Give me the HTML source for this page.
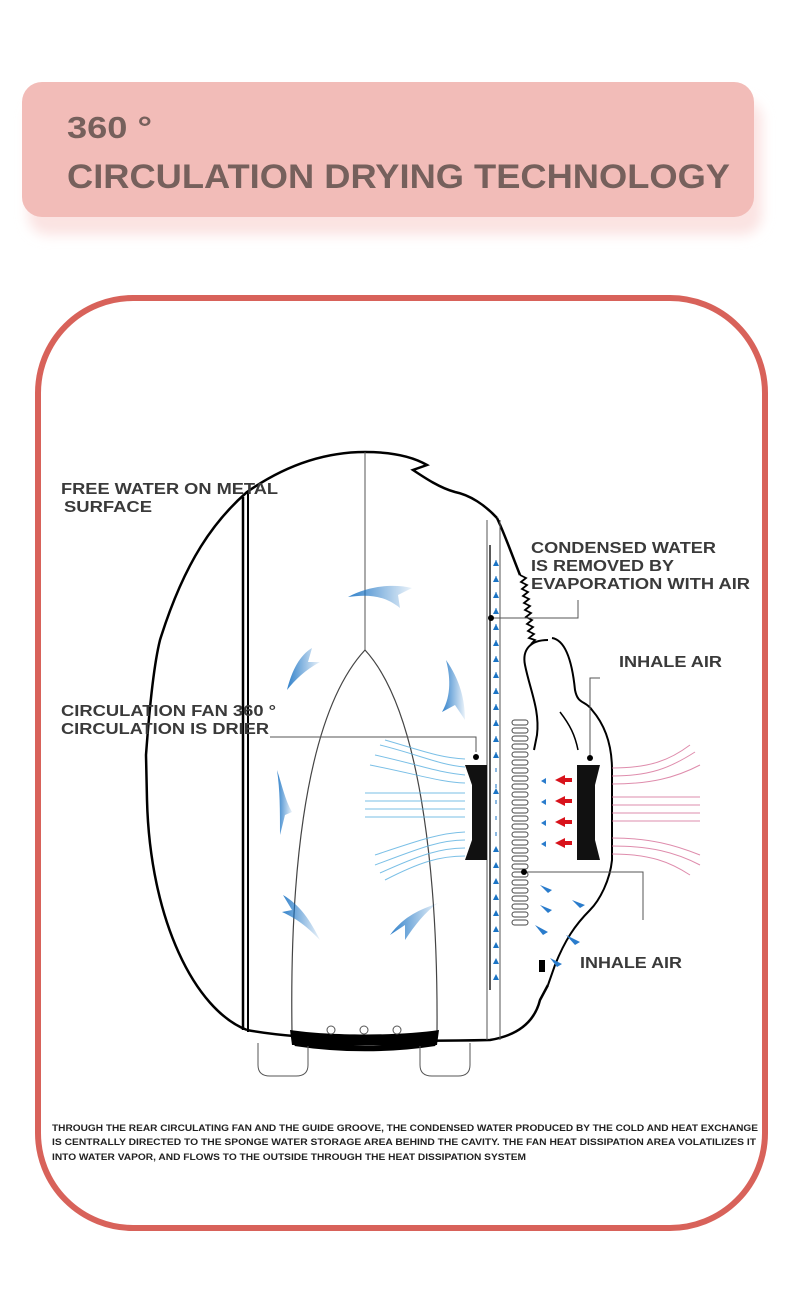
<!DOCTYPE html>
<html><head><meta charset="utf-8"><style>
html,body{margin:0;padding:0;background:#fff;}
body{width:800px;height:1302px;position:relative;overflow:hidden;font-family:"Liberation Sans",sans-serif;}
</style></head><body>
<svg width="800" height="1302" viewBox="0 0 800 1302" xmlns="http://www.w3.org/2000/svg">
<defs>
<linearGradient id="ga" x1="0" y1="0" x2="1" y2="0"><stop offset="0" stop-color="#1a73c4"/><stop offset="1" stop-color="#1a73c4" stop-opacity="0.1"/></linearGradient>
<filter id="sh" x="-5%" y="-20%" width="110%" height="160%"><feGaussianBlur stdDeviation="6"/></filter>
</defs>
<rect x="28" y="100" width="734" height="135" rx="20" fill="#fbe3e2" filter="url(#sh)"/>
<rect x="22" y="82" width="732" height="135" rx="20" fill="#f2bcb8"/>
<text x="67" y="138" font-size="31" font-weight="bold" fill="#76605c" textLength="85" lengthAdjust="spacingAndGlyphs">360 °</text>
<text x="67" y="188" font-size="34" font-weight="bold" fill="#76605c" textLength="663" lengthAdjust="spacingAndGlyphs">CIRCULATION DRYING TECHNOLOGY</text>
<rect x="38" y="298" width="727" height="930" rx="95" fill="#fff" stroke="#d8625a" stroke-width="6"/>
<g fill="none" stroke="#000" stroke-width="2.5">
<path d="M247,1030 C195,1010 150,920 147,800 L146,755 C150,700 155,660 160,640 C185,560 215,520 247,492 C290,462 330,452 365,452 C395,452 415,458 427,465 L413,470 C425,478 440,488 455,492 C470,495 485,505 497,518"/>
<path d="M247,1030 C300,1040 400,1042 490,1040 C520,1035 535,1020 540,1000 L548,985"/>
<path d="M497,518 C505,535 512,555 520,575"/>
</g>
<path d="M520,575 l6,3 -5,4 6,3 -5,4 6,3 -5,4 6,3 -5,4 6,3 -5,4 6,3 -5,4 6,3 -5,4 6,3 -5,4 6,3 -5,4 6,2 -4,4" fill="none" stroke="#000" stroke-width="1.8"/>
<path d="M548,640 C530,640 522,650 525,665 C530,690 540,710 537,735 L534,750" fill="none" stroke="#000" stroke-width="2"/>
<path d="M552,638 C565,640 572,660 575,690 C578,705 585,700 592,710 C605,725 612,745 612,770 L612,860 C610,880 600,900 590,910 C575,925 565,940 555,965 L548,985" fill="none" stroke="#000" stroke-width="2"/>
<path d="M560,712 C570,725 575,735 578,750" fill="none" stroke="#000" stroke-width="1.5"/>
<rect x="539" y="960" width="6" height="12" fill="#000"/>
<line x1="243" y1="497" x2="243" y2="1030" stroke="#000" stroke-width="2.5"/>
<line x1="248" y1="492" x2="248" y2="1032" stroke="#000" stroke-width="2"/>
<line x1="365" y1="452" x2="365" y2="650" stroke="#555" stroke-width="1"/>
<line x1="487" y1="520" x2="487" y2="1040" stroke="#555" stroke-width="1"/>
<line x1="500" y1="520" x2="500" y2="1040" stroke="#555" stroke-width="1"/>
<line x1="490" y1="545" x2="490" y2="990" stroke="#222" stroke-width="1.5"/>
<path d="M292,1032 C290,900 300,720 365,650 C425,715 438,900 437,1032" fill="none" stroke="#444" stroke-width="1.2"/>
<path d="M290,1030 L292,1045 L437,1045 L439,1030 C400,1036 330,1036 290,1030Z" fill="#000"/>
<path d="M295,1043 C340,1050 390,1050 435,1043" stroke="#000" stroke-width="6" fill="none"/>
<circle cx="331" cy="1030" r="4" fill="#fff" stroke="#555"/><circle cx="364" cy="1030" r="4" fill="#fff" stroke="#555"/><circle cx="397" cy="1030" r="4" fill="#fff" stroke="#555"/>
<path d="M258,1043 L258,1065 Q258,1076 270,1076 L296,1076 Q308,1076 308,1065 L308,1046" fill="none" stroke="#555" stroke-width="1"/>
<path d="M420,1046 L420,1065 Q420,1076 432,1076 L458,1076 Q470,1076 470,1065 L470,1043" fill="none" stroke="#555" stroke-width="1"/>
<g fill="#1a73c4">
<polygon points="496,560 493,566 499,566"/><polygon points="496,576 493,582 499,582"/><polygon points="496,592 493,598 499,598"/><polygon points="496,608 493,614 499,614"/><polygon points="496,624 493,630 499,630"/><polygon points="496,640 493,646 499,646"/><polygon points="496,656 493,662 499,662"/><polygon points="496,672 493,678 499,678"/><polygon points="496,688 493,694 499,694"/><polygon points="496,704 493,710 499,710"/><polygon points="496,720 493,726 499,726"/><polygon points="496,736 493,742 499,742"/><polygon points="496,752 493,758 499,758"/><polygon points="496,788 493,794 499,794"/>
<polygon points="496,846 493,852 499,852"/><polygon points="496,862 493,868 499,868"/><polygon points="496,878 493,884 499,884"/><polygon points="496,894 493,900 499,900"/><polygon points="496,910 493,916 499,916"/><polygon points="496,926 493,932 499,932"/><polygon points="496,942 493,948 499,948"/><polygon points="496,958 493,964 499,964"/><polygon points="496,974 493,980 499,980"/>
</g>
<g stroke="#1a73c4" stroke-width="1"><line x1="496" y1="560" x2="496" y2="990" stroke-dasharray="4,12"/></g>
<g fill="url(#ga)" opacity="0.9">
<path d="M348,597 C370,585 395,584 412,588 L398,595 L400,608 C385,596 370,594 348,597Z"/>
<path d="M287,690 C292,670 300,655 312,648 L308,662 L320,662 C305,670 295,680 287,690Z"/>
<path d="M446,660 C460,680 465,700 465,720 L455,705 L442,712 C452,695 450,675 446,660Z"/>
<path d="M277,770 C280,790 280,810 280,835 L285,815 L292,812 C285,800 282,785 277,770Z"/>
<path d="M320,940 C310,920 300,905 283,895 L292,910 L282,912 C300,920 310,930 320,940Z"/>
<path d="M438,903 C420,910 405,915 390,935 L405,925 L405,940 C415,925 425,912 438,903Z"/>
</g>
<g fill="none" stroke="#5ab0e0" stroke-width="1" opacity="0.8">
<path d="M380,745 C420,755 440,765 465,767"/><path d="M375,755 C420,765 440,773 465,775"/><path d="M370,765 C420,775 440,782 465,783"/><path d="M385,740 C420,750 440,758 465,759"/>
<path d="M365,793 L465,793"/><path d="M365,801 L465,801"/><path d="M365,809 L465,809"/><path d="M365,817 L465,817"/>
<path d="M375,855 C420,840 440,833 465,832"/><path d="M375,865 C420,848 440,840 465,840"/><path d="M380,873 C420,855 440,848 465,848"/><path d="M385,880 C420,862 440,856 465,856"/>
</g>
<g fill="none" stroke="#d77098" stroke-width="1" opacity="0.8">
<path d="M612,768 C650,768 670,760 690,745"/><path d="M612,776 C650,776 670,768 695,752"/><path d="M612,784 C650,784 675,778 700,765"/>
<path d="M612,797 L700,797"/><path d="M612,805 L700,805"/><path d="M612,813 L700,813"/><path d="M612,821 L700,821"/>
<path d="M612,838 C650,838 675,845 700,855"/><path d="M612,846 C650,846 675,852 700,865"/><path d="M612,854 C650,854 670,862 690,875"/>
</g>
<g fill="#111">
<path d="M465,765 L487,765 L487,860 L465,860 L472,840 L472,785Z"/>
<path d="M577,765 L600,765 L595,785 L595,840 L600,860 L577,860Z"/>
</g>
<g>
<polygon points="555,780 565,775 565,778 572,778 572,782 565,782 565,785" fill="#d8121b"/>
<polygon points="555,801 565,796 565,799 572,799 572,803 565,803 565,806" fill="#d8121b"/>
<polygon points="555,822 565,817 565,820 572,820 572,824 565,824 565,827" fill="#d8121b"/>
<polygon points="555,843 565,838 565,841 572,841 572,845 565,845 565,848" fill="#d8121b"/>
<polygon points="541,781 546,778 546,784" fill="#2a7ccc"/><polygon points="541,802 546,799 546,805" fill="#2a7ccc"/><polygon points="541,823 546,820 546,826" fill="#2a7ccc"/><polygon points="541,844 546,841 546,847" fill="#2a7ccc"/>
</g>
<g fill="none" stroke="#444" stroke-width="1">
<rect x="512" y="720" width="16" height="5" rx="2.5"/><rect x="512" y="728" width="16" height="5" rx="2.5"/><rect x="512" y="736" width="16" height="5" rx="2.5"/><rect x="512" y="744" width="16" height="5" rx="2.5"/><rect x="512" y="752" width="16" height="5" rx="2.5"/><rect x="512" y="760" width="16" height="5" rx="2.5"/><rect x="512" y="768" width="16" height="5" rx="2.5"/><rect x="512" y="776" width="16" height="5" rx="2.5"/><rect x="512" y="784" width="16" height="5" rx="2.5"/><rect x="512" y="792" width="16" height="5" rx="2.5"/><rect x="512" y="800" width="16" height="5" rx="2.5"/><rect x="512" y="808" width="16" height="5" rx="2.5"/><rect x="512" y="816" width="16" height="5" rx="2.5"/><rect x="512" y="824" width="16" height="5" rx="2.5"/><rect x="512" y="832" width="16" height="5" rx="2.5"/><rect x="512" y="840" width="16" height="5" rx="2.5"/><rect x="512" y="848" width="16" height="5" rx="2.5"/><rect x="512" y="856" width="16" height="5" rx="2.5"/><rect x="512" y="864" width="16" height="5" rx="2.5"/><rect x="512" y="872" width="16" height="5" rx="2.5"/><rect x="512" y="880" width="16" height="5" rx="2.5"/><rect x="512" y="888" width="16" height="5" rx="2.5"/><rect x="512" y="896" width="16" height="5" rx="2.5"/><rect x="512" y="904" width="16" height="5" rx="2.5"/><rect x="512" y="912" width="16" height="5" rx="2.5"/><rect x="512" y="920" width="16" height="5" rx="2.5"/>
</g>
<g fill="#2a7ccc">
<polygon points="540,885 552,890 548,893"/><polygon points="540,905 552,910 548,913"/><polygon points="572,900 585,905 580,908"/>
<polygon points="535,925 548,932 543,935"/><polygon points="566,935 580,942 575,945"/><polygon points="550,958 562,964 557,967"/>
</g>
<g fill="none" stroke="#555" stroke-width="1">
<polyline points="490,618 578,618 578,600"/>
<polyline points="270,737 476,737 476,752"/>
<polyline points="590,758 590,678 600,678"/>
<polyline points="524,872 643,872 643,920"/>
</g>
<g fill="#000"><circle cx="491" cy="618" r="3"/><circle cx="476" cy="757" r="3"/><circle cx="590" cy="758" r="3"/><circle cx="524" cy="872" r="3"/></g>
<g font-size="15.5" font-weight="bold" fill="#3a3a3a" lengthAdjust="spacingAndGlyphs">
<text x="61" y="494" textLength="217" lengthAdjust="spacingAndGlyphs">FREE WATER ON METAL</text>
<text x="64" y="512" textLength="88" lengthAdjust="spacingAndGlyphs">SURFACE</text>
<text x="531" y="553" textLength="185" lengthAdjust="spacingAndGlyphs">CONDENSED WATER</text>
<text x="531" y="571" textLength="143" lengthAdjust="spacingAndGlyphs">IS REMOVED BY</text>
<text x="531" y="589" textLength="219" lengthAdjust="spacingAndGlyphs">EVAPORATION WITH AIR</text>
<text x="619" y="667" textLength="103" lengthAdjust="spacingAndGlyphs">INHALE AIR</text>
<text x="61" y="716" textLength="215" lengthAdjust="spacingAndGlyphs">CIRCULATION FAN 360 °</text>
<text x="61" y="734" textLength="208" lengthAdjust="spacingAndGlyphs">CIRCULATION IS DRIER</text>
<text x="580" y="968" textLength="102" lengthAdjust="spacingAndGlyphs">INHALE AIR</text>
</g>
<g font-size="9.3" font-weight="bold" fill="#222">
<text x="52" y="1131" textLength="706" lengthAdjust="spacingAndGlyphs">THROUGH THE REAR CIRCULATING FAN AND THE GUIDE GROOVE, THE CONDENSED WATER PRODUCED BY THE COLD AND HEAT EXCHANGE</text>
<text x="52" y="1145" textLength="704" lengthAdjust="spacingAndGlyphs">IS CENTRALLY DIRECTED TO THE SPONGE WATER STORAGE AREA BEHIND THE CAVITY. THE FAN HEAT DISSIPATION AREA VOLATILIZES IT</text>
<text x="52" y="1160" textLength="474" lengthAdjust="spacingAndGlyphs">INTO WATER VAPOR, AND FLOWS TO THE OUTSIDE THROUGH THE HEAT DISSIPATION SYSTEM</text>
</g>
</svg>
</body></html>
